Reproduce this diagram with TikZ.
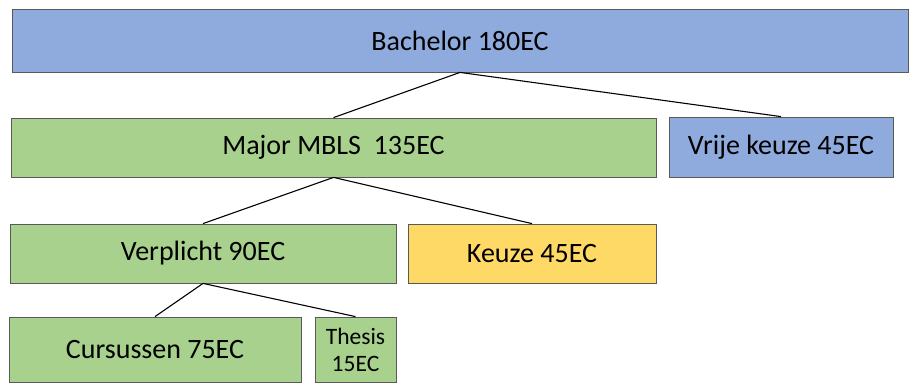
\documentclass[tikz,border=0pt]{standalone}
\usepackage{fontspec}
\setmainfont{Carlito}
\definecolor{bsblue}{HTML}{8FAADC}
\definecolor{bsgreen}{HTML}{A9D18E}
\definecolor{bsyellow}{HTML}{FFD966}
\begin{document}
\begin{tikzpicture}[x=1pt,y=-1pt,font=\fontsize{28}{32}\selectfont,
  ecbox/.style={draw=black!65,line width=.8pt,inner sep=0pt,align=center}]
  \useasboundingbox (0,0) rectangle (912,383);
  % boxes: name/centre x/centre y/width/height/fill/label
  \foreach \name/\cx/\cy/\w/\h/\boxcolor/\lab in {
    bachelor/460/40.5/896/63/bsblue/{Bachelor 180EC},
    major/333.5/147.5/645/59/bsgreen/{Major MBLS\ \ 135EC},
    vrij/781/147/224/60/bsblue/{Vrije keuze 45EC},
    verplicht/203/253.5/386/59/bsgreen/{Verplicht 90EC},
    keuze/532/253.5/248/59/bsyellow/{Keuze 45EC},
    cursus/155/349.5/292/65/bsgreen/{Cursussen 75EC}}
  {
    \node[ecbox,fill=\boxcolor,minimum width=\w pt,minimum height=\h pt] (\name) at (\cx,\cy) {\lab};
  }
  \node[ecbox,fill=bsgreen,minimum width=81pt,minimum height=65pt,
    font=\fontsize{23.5}{27}\selectfont] (thesis) at (355.5,349.5) {Thesis\\15EC};
  % tree lines
  \foreach \from/\to in {bachelor/major,bachelor/vrij,major/verplicht,
    major/keuze,verplicht/cursus,verplicht/thesis}
    \draw[line width=1.1pt] (\from.south) -- (\to.north);
\end{tikzpicture}
\end{document}
